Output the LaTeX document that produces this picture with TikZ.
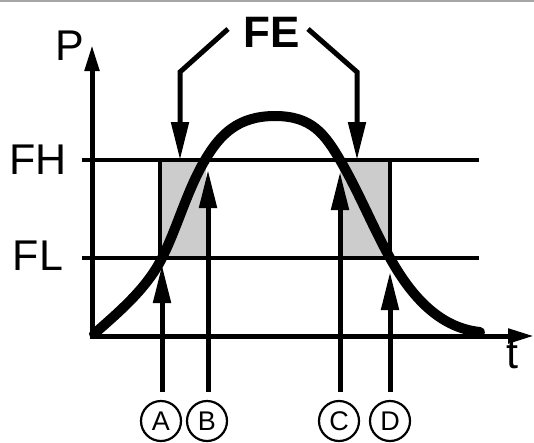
\documentclass[tikz,border=0pt]{standalone}
\usepackage{fontspec}
\setmainfont{Liberation Sans}
\usetikzlibrary{arrows.meta}
\tikzset{
  big/.style={font=\fontsize{43}{50}\selectfont, inner sep=0pt},
  lbl/.style={draw, circle, line width=2.2pt, minimum size=40pt, inner sep=0pt, font=\fontsize{27}{30}\selectfont},
  ptr/.style={line width=5pt, -{Triangle[length=38pt,width=17pt]}},
  axis/.style={line width=5pt, -{Triangle[length=26pt,width=14pt]}},
  level/.style={line width=4pt},
  fill box/.style={fill=black!20},
}
\begin{document}
\begin{tikzpicture}[x=1pt,y=-1pt]
\useasboundingbox (0,0) rectangle (534,442);
\draw[gray!70, line width=1.5pt] (0,1) -- (534,1);
% shaded boxes
\fill[fill box] (160,160) rectangle (206,258);
\fill[fill box] (340,160) rectangle (390,258);
\draw[level] (160,160) -- (160,258);
\draw[level] (390,160) -- (390,258);
% levels
\draw[level] (82,160) -- (479,160);
\draw[level] (82,258) -- (479,258);
% axes
\coordinate (O) at (92,336);
\coordinate (Ptip) at (92,45);
\coordinate (Ttip) at (534,336);
\draw[axis] (92,338) -- (Ptip);
\draw[axis] (90,336) -- (Ttip);
% labels
\node[big] (P) at (70,46) {P};
\node[big] (FH) at (38,160) {FH};
\node[big] (FL) at (38,256) {FL};
\node[big] (t) at (512,355) {t};
\node[big, font=\fontsize{44}{50}\selectfont\bfseries] (FE) at (272,32) {FE};
% curve
\draw[line width=10pt, line cap=round, line join=round]
  (94,334) .. controls (118,312.6) and (146.3,289.3) .. (162,258)
  .. controls (177.9,226.1) and (186.9,190.7) .. (205,160)
  .. controls (220.2,134.1) and (238.3,116) .. (275,116)
  .. controls (311.7,116) and (324.8,134.1) .. (340,160)
  .. controls (358.6,191.6) and (372.2,226) .. (390,258)
  .. controls (409,292.1) and (437,327.7) .. (480,332);
% FE brackets
\coordinate (fe1) at (228,29);
\coordinate (fe2) at (180,72);
\coordinate (fe3) at (180,160);
\coordinate (fe4) at (308,29);
\coordinate (fe5) at (357,72);
\coordinate (fe6) at (357,160);
\draw[ptr, line join=miter] (fe1) -- (fe2) -- (fe3);
\draw[ptr, line join=miter] (fe4) -- (fe5) -- (fe6);
% circle labels
\node[lbl] (A) at (161,421) {A};
\node[lbl] (B) at (207,421) {B};
\node[lbl] (C) at (339,421) {C};
\node[lbl] (D) at (390,421) {D};
\coordinate (ta) at (162,265);
\coordinate (tb) at (208,170);
\coordinate (tc) at (340,172);
\coordinate (td) at (390,272);
\draw[ptr, shorten <=8pt] (A.north -| ta) -- (ta);
\draw[ptr, shorten <=8pt] (B.north -| tb) -- (tb);
\draw[ptr, shorten <=8pt] (C.north -| tc) -- (tc);
\draw[ptr, shorten <=8pt] (D.north -| td) -- (td);
\end{tikzpicture}
\end{document}
